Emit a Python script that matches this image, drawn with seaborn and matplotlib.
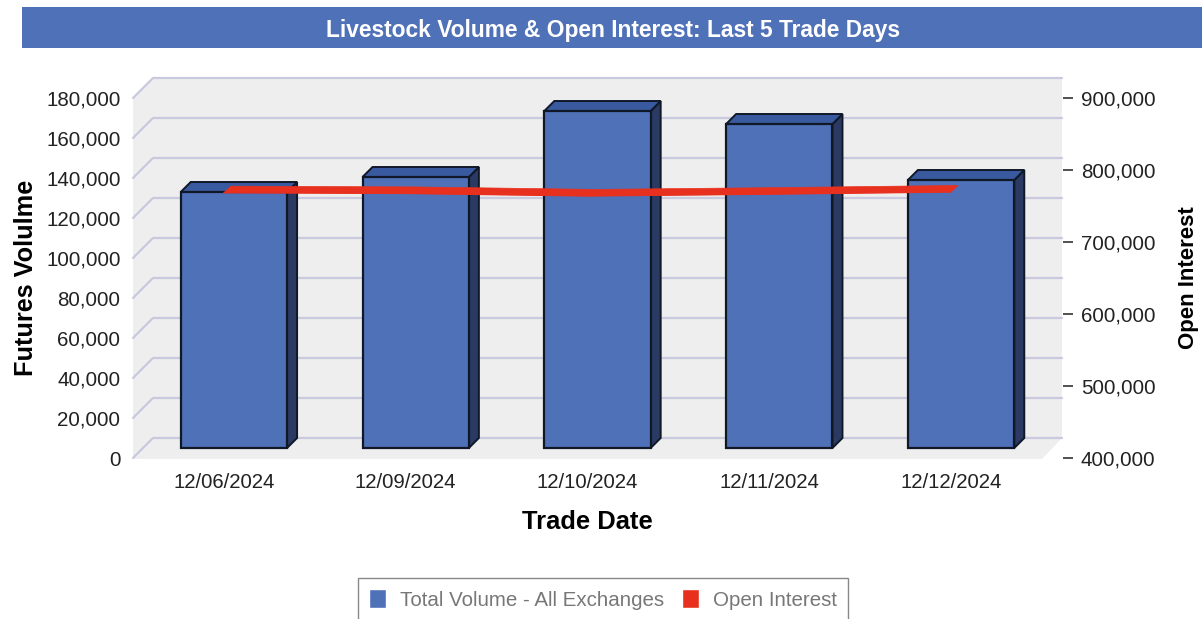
import matplotlib.pyplot as plt
import pandas as pd
import seaborn as sns
from matplotlib.lines import Line2D
from matplotlib.patches import Patch, Polygon, Rectangle
from matplotlib.transforms import Affine2D, IdentityTransform

dates = ["12/06/2024", "12/09/2024", "12/10/2024", "12/11/2024", "12/12/2024"]
volume = [128000, 135500, 168500, 162000, 134000]
open_interest = [768500, 767500, 764000, 766500, 769500]
volume_ticks = list(range(0, 180001, 20000))
oi_ticks = list(range(400000, 900001, 100000))

BLUE = "#4f71b8"
SIDE = "#2a3a63"
TOP = "#3a5a9f"
RED = "#e8301f"
WALL = "#eeeeee"
GRID = "#c9c9e0"
TEXT = "#222222"
W, H = 1202, 619

df = pd.DataFrame({"date": dates, "volume": volume, "oi": open_interest})

sns.set_theme(style="white")
plt.rcParams["font.family"] = ["Liberation Sans", "DejaVu Sans"]

fig = plt.figure(figsize=(W / 100, H / 100), dpi=100)
# axes = front plane of the fake 3d box
ax = fig.add_axes([133 / W, 1 - 458 / H, 909 / W, 360 / H])
ax.patch.set_visible(False)
for s in ax.spines.values():
    s.set_visible(False)

# title band
fig.add_artist(Rectangle((22 / W, 1 - 48 / H), 1 - 22 / W, 41 / H, transform=fig.transFigure,
                         facecolor=BLUE, edgecolor="none"))
fig.text(613 / W, 1 - 30.5 / H, "Livestock Volume & Open Interest: Last 5 Trade Days",
         color="white", fontsize=16.4, fontweight="bold", ha="center", va="center")

sns.barplot(data=df, x="date", y="volume", color=BLUE, saturation=1, width=0.585, ax=ax, zorder=3)
ax.set_xlim(-0.5, 4.5)
ax.set_ylim(0, 180000)
ax.set_yticks(volume_ticks)
ax.set_yticklabels([f"{v:,}" for v in volume_ticks], va="center_baseline")
ax.tick_params(axis="y", length=0, pad=9, labelsize=14.8, labelcolor=TEXT)
ax.tick_params(axis="x", length=0, pad=11, labelsize=14.7, labelcolor=TEXT)
ax.set_xlabel("Trade Date", fontsize=18.4, fontweight="bold", color="black", labelpad=12.5)
ax.set_ylabel("Futures Volulme", fontsize=18.2, fontweight="bold", color="black", labelpad=6)

# walls and floor
dx, dy = 20, 20
to_px = ax.transData.transform
(x0, y0), (x1, y1) = to_px([(-0.5, 0), (4.5, 180000)])
wall_pts = [(x0, y0 - 1), (x1, y0 - 1), (x1 + dx, y0 + dy), (x1 + dx, y1 + dy),
            (x0 + dx, y1 + dy), (x0, y1)]
ax.add_patch(Polygon(wall_pts, closed=True, transform=IdentityTransform(), facecolor=WALL,
                     edgecolor="none", zorder=0, clip_on=False))
for v in volume_ticks:
    _, y = to_px((0, v))
    ax.add_line(Line2D([x0, x0 + dx, x1 + dx], [y, y + dy, y + dy], transform=IdentityTransform(),
                       color=GRID, lw=1.6, zorder=1, clip_on=False))

# bars sit half way into the box, faces added by hand
shift = Affine2D().translate(10, 10)
for bar in ax.patches:
    if not isinstance(bar, Rectangle) or bar.get_zorder() != 3:
        continue
    bar.set_transform(ax.transData + shift)
    bar.set_edgecolor("#101828")
    bar.set_linewidth(1.6)
    bar.set_clip_on(False)
    (l, b), (r, t) = to_px([(bar.get_x(), 0), (bar.get_x() + bar.get_width(), bar.get_height())])
    l, r, b, t = l + 10, r + 10, b + 10, t + 10
    ax.add_patch(Polygon([(r, b), (r + 10, b + 10), (r + 10, t + 10), (r, t)], transform=IdentityTransform(),
                         facecolor=SIDE, edgecolor="#101828", lw=1.4, zorder=2.5, clip_on=False))
    ax.add_patch(Polygon([(l, t), (l + 10, t + 10), (r + 10, t + 10), (r, t)], transform=IdentityTransform(),
                         facecolor=TOP, edgecolor="#101828", lw=1.4, zorder=2.5, clip_on=False))

# right axis
ax2 = ax.twinx()
ax2.patch.set_visible(False)
for s in ax2.spines.values():
    s.set_visible(False)
ax2.spines["right"].set_position(("outward", 15))
sns.lineplot(data=df, x="date", y="oi", color=RED, lw=1, sort=False, legend=False, ax=ax2)
ax2.set_ylim(400000, 900000)
ax2.set_yticks(oi_ticks)
ax2.set_yticklabels([f"{v:,}" for v in oi_ticks], va="center_baseline")
ax2.tick_params(axis="y", right=True, length=7, width=1.2, color="#333333", pad=6, labelsize=14.8, labelcolor=TEXT)
ax2.set_ylabel("Open Interest", fontsize=16, fontweight="bold", color="black", labelpad=16)

# ribbon for the line
front = [tuple(ax2.transData.transform(p)) for p in ax2.lines[0].get_xydata()]
ribbon = front + [(x + 7, y + 6.5) for x, y in reversed(front)]
ax2.add_patch(Polygon(ribbon, closed=True, transform=IdentityTransform(), facecolor=RED,
                      edgecolor=RED, lw=0.5, zorder=4, clip_on=False))

handles = [Patch(facecolor=BLUE, label="Total Volume - All Exchanges"),
           Patch(facecolor=RED, label="Open Interest")]
fig.legend(handles=handles, loc="center", bbox_to_anchor=(603 / W, 1 - 599.5 / H), ncol=2, fontsize=14.8,
           labelcolor="#777777", frameon=True, fancybox=False, edgecolor="#888888", framealpha=1,
           handlelength=0.8, handleheight=1, handletextpad=0.68, columnspacing=0.88, borderpad=0.55,
           borderaxespad=0)

fig.savefig("out.png", dpi=100)
